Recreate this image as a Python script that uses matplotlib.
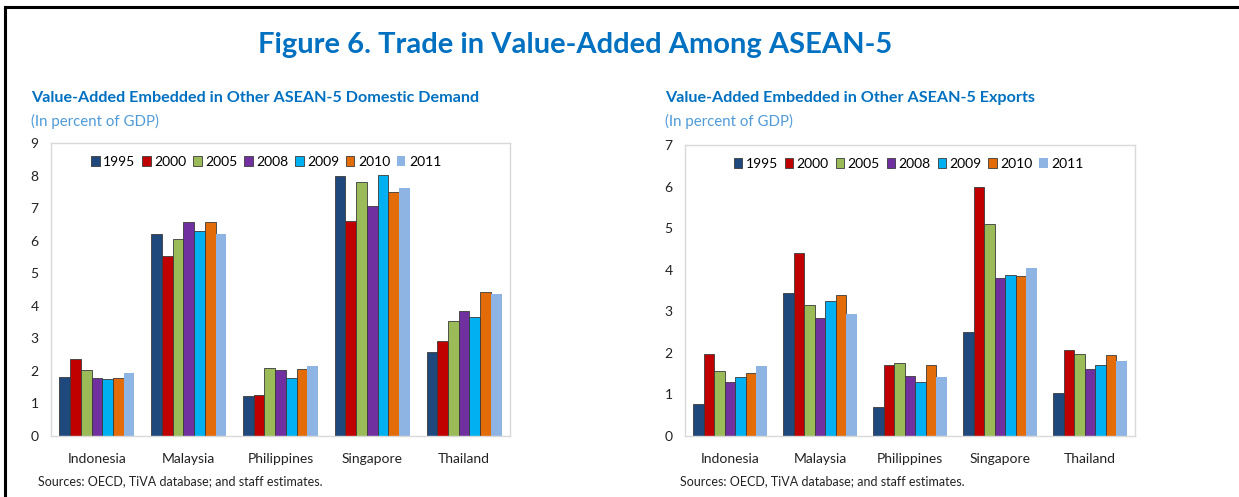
import matplotlib
matplotlib.use("Agg")
import numpy as np
import matplotlib.pyplot as plt
from matplotlib.lines import Line2D

plt.rcParams['font.family'] = ['Lato', 'DejaVu Sans']

countries = ['Indonesia', 'Malaysia', 'Philippines', 'Singapore', 'Thailand']
years = ['1995', '2000', '2005', '2008', '2009', '2010', '2011']
colors = ['#1F497D', '#C00000', '#9BBB59', '#7030A0', '#00B0F0', '#E36C09', '#8DB4E2']

# Value-added embedded in other ASEAN-5 domestic demand, by year
demand_1995 = [1.82, 6.19, 1.23, 8.00, 2.59]
demand_2000 = [2.38, 5.53, 1.27, 6.59, 2.92]
demand_2005 = [2.02, 6.05, 2.08, 7.80, 3.53]
demand_2008 = [1.79, 6.58, 2.02, 7.07, 3.83]
demand_2009 = [1.75, 6.31, 1.78, 8.03, 3.65]
demand_2010 = [1.77, 6.58, 2.05, 7.49, 4.43]
demand_2011 = [1.93, 6.20, 2.14, 7.63, 4.35]

# Value-added embedded in other ASEAN-5 exports, by year
exports_1995 = [0.76, 3.44, 0.69, 2.51, 1.04]
exports_2000 = [1.97, 4.41, 1.71, 6.00, 2.07]
exports_2005 = [1.57, 3.16, 1.75, 5.09, 1.98]
exports_2008 = [1.31, 2.84, 1.45, 3.79, 1.61]
exports_2009 = [1.41, 3.25, 1.30, 3.88, 1.71]
exports_2010 = [1.51, 3.39, 1.70, 3.85, 1.96]
exports_2011 = [1.69, 2.94, 1.41, 4.04, 1.80]

demand = [demand_1995, demand_2000, demand_2005, demand_2008, demand_2009, demand_2010, demand_2011]
exports = [exports_1995, exports_2000, exports_2005, exports_2008, exports_2009, exports_2010, exports_2011]

W, H = 1239, 497
fig = plt.figure(figsize=(W / 100, H / 100), dpi=100)
fig.patch.set_facecolor('white')

def box(l, t, r, b):
    return [l / W, 1 - b / H, (r - l) / W, (b - t) / H]

def draw_panel(ax, series, ymax, legend_x):
    x = np.arange(len(countries))
    width = 0.117
    for i, vals in enumerate(series):
        off = (i - 3) * width
        edge = 'none' if i == 6 else '#3a3a3a'
        ax.bar(x + off, vals, width, color=colors[i], edgecolor=edge,
               linewidth=0.6, label=years[i], zorder=2)
    ax.set_xlim(-0.5, 4.5)
    ax.set_ylim(0, ymax)
    ax.set_yticks(range(ymax + 1))
    ax.set_xticks(x)
    ax.set_xticklabels(countries)
    ax.tick_params(axis='both', length=0, labelsize=10, colors='#222222')
    ax.tick_params(axis='x', pad=12)
    ax.tick_params(axis='y', pad=9)
    for s in ax.spines.values():
        s.set_color('#d9d9d9')
        s.set_linewidth(1.0)
    ax.legend(ncol=7, loc='upper left', bbox_to_anchor=(legend_x, 0.985),
              frameon=False, fontsize=10, handlelength=0.6, handleheight=0.75,
              handletextpad=0.25, columnspacing=0.5, borderaxespad=0.2)

ax1 = fig.add_axes(box(51, 143, 510, 436))
draw_panel(ax1, demand, 9, 0.07)
ax2 = fig.add_axes(box(685, 145, 1135, 436))
draw_panel(ax2, exports, 7, 0.09)

blue = '#0070C0'
light = '#4F9BD9'
fig.text(575 / W, 1 - 45 / H, 'Figure 6. Trade in Value-Added Among ASEAN-5',
         ha='center', va='center', fontsize=21, fontweight='bold', color=blue)

fig.text(31 / W, 1 - 98 / H, 'Value-Added Embedded in Other ASEAN-5 Domestic Demand',
         ha='left', va='center', fontsize=11.6, fontweight='bold', color=blue)
fig.text(31 / W, 1 - 121 / H, '(In percent of GDP)',
         ha='left', va='center', fontsize=10.8, color=light)
fig.text(665 / W, 1 - 98 / H, 'Value-Added Embedded in Other ASEAN-5 Exports',
         ha='left', va='center', fontsize=11.6, fontweight='bold', color=blue)
fig.text(665 / W, 1 - 121 / H, '(In percent of GDP)',
         ha='left', va='center', fontsize=10.8, color=light)

fig.text(38 / W, 1 - 481 / H, 'Sources: OECD, TiVA database; and staff estimates.',
         ha='left', va='center', fontsize=9, color='#222222')
fig.text(680 / W, 1 - 481 / H, 'Sources: OECD, TiVA database; and staff estimates.',
         ha='left', va='center', fontsize=9, color='#222222')

# outer frame (left and top edges)
fig.add_artist(Line2D([5 / W, 5 / W], [0, 1 - 7 / H], color='black', linewidth=2.2))
fig.add_artist(Line2D([5 / W, 1], [1 - 7 / H, 1 - 7 / H], color='black', linewidth=2.2))

fig.savefig('out.png', dpi=100)
